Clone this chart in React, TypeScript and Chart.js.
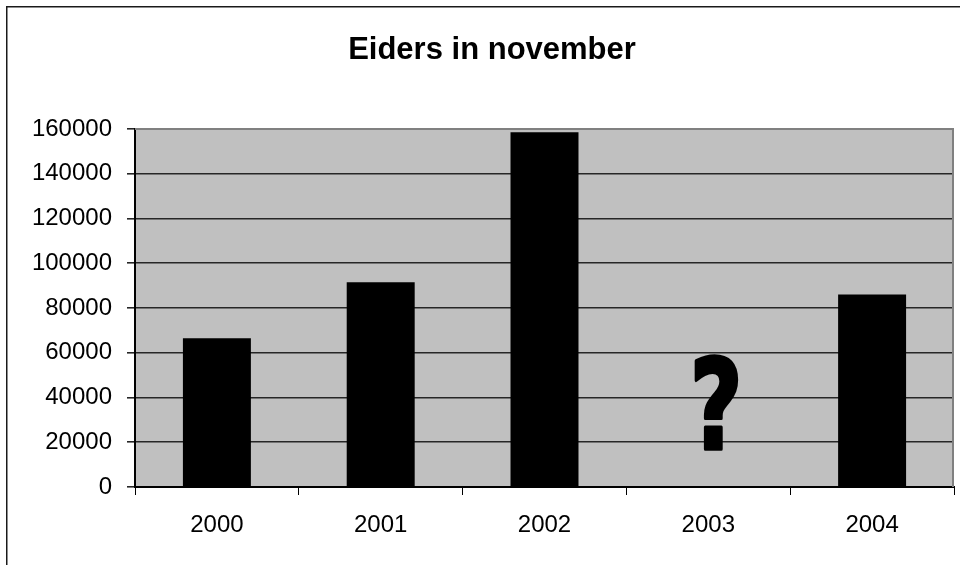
import React, { useEffect, useRef } from "react";
import { Chart, registerables } from "chart.js";

Chart.register(...registerables);

const title = "Eiders in november";
const categories = ["2000", "2001", "2002", "2003", "2004"];
const eiders: (number | null)[] = [66500, 91500, 158500, null, 86000];
const yMin = 0;
const yMax = 160000;
const yStep = 20000;
const unknownCategory = "2003";
const unknownMarkValue = 37500;

const FONT = "'Liberation Sans', Arial, sans-serif";

const decorPlugin = {
  id: "decor",
  beforeDraw(chart: any) {
    const { ctx, chartArea } = chart;
    ctx.save();
    ctx.fillStyle = "#ffffff";
    ctx.fillRect(0, 0, chart.width, chart.height);
    ctx.fillStyle = "#C0C0C0";
    ctx.fillRect(chartArea.left, chartArea.top, chartArea.right - chartArea.left, chartArea.bottom - chartArea.top);
    // outer frame
    ctx.strokeStyle = "#1a1a1a";
    ctx.lineWidth = 1.5;
    ctx.beginPath();
    ctx.moveTo(6.75, chart.height + 5);
    ctx.lineTo(6.75, 6.75);
    ctx.lineTo(chart.width + 5, 6.75);
    ctx.stroke();
    // title
    ctx.fillStyle = "#000";
    ctx.font = `bold 31px ${FONT}`;
    ctx.textAlign = "center";
    ctx.textBaseline = "alphabetic";
    ctx.fillText(title, 492, 59);
    ctx.restore();
  },
  beforeDatasetsDraw(chart: any) {
    const { ctx, chartArea } = chart;
    ctx.save();
    ctx.strokeStyle = "#808080";
    ctx.lineWidth = 2;
    ctx.beginPath();
    ctx.moveTo(chartArea.left, chartArea.top);
    ctx.lineTo(chartArea.right - 1, chartArea.top);
    ctx.lineTo(chartArea.right - 1, chartArea.bottom);
    ctx.stroke();
    ctx.restore();
  },
  afterDatasetsDraw(chart: any) {
    const { ctx } = chart;
    const xs = chart.scales.x;
    const ys = chart.scales.y;
    const idx = categories.indexOf(unknownCategory);
    if (idx < 0) return;
    const cx = xs.getPixelForValue(idx) + 8;
    const cy = ys.getPixelForValue(unknownMarkValue);
    ctx.save();
    ctx.font = `bold 100px 'DejaVu Sans', ${FONT}`;
    const m = ctx.measureText("?");
    const gw = m.actualBoundingBoxLeft + m.actualBoundingBoxRight;
    const gh = m.actualBoundingBoxAscent + m.actualBoundingBoxDescent;
    const targetW = 42;
    const targetH = 92;
    const sx = targetW / gw;
    const sy = targetH / gh;
    ctx.translate(cx, cy);
    ctx.scale(sx, sy);
    ctx.fillStyle = "#000";
    ctx.strokeStyle = "#000";
    ctx.lineWidth = 3;
    ctx.lineJoin = "round";
    ctx.textAlign = "left";
    ctx.textBaseline = "alphabetic";
    const ox = -gw / 2 + m.actualBoundingBoxLeft;
    const oy = -gh / 2 + m.actualBoundingBoxAscent;
    ctx.fillText("?", ox, oy);
    ctx.strokeText("?", ox, oy);
    ctx.restore();
  },
};

export default function App() {
  const ref = useRef<HTMLCanvasElement | null>(null);
  useEffect(() => {
    if (!ref.current) return;
    const chart = new Chart(ref.current, {
      type: "bar",
      data: {
        labels: categories,
        datasets: [
          {
            label: "Eiders",
            data: eiders,
            backgroundColor: "#000000",
            borderWidth: 0,
            barPercentage: 0.415,
            categoryPercentage: 1,
          },
        ],
      },
      options: {
        animation: false,
        responsive: false,
        maintainAspectRatio: false,
        layout: { padding: { top: 129, left: 0, right: 6, bottom: 0 } },
        plugins: {
          legend: { display: false },
          title: { display: false },
          tooltip: { enabled: false },
        },
        scales: {
          x: {
            offset: true,
            grid: {
              offset: true,
              drawOnChartArea: false,
              drawTicks: true,
              tickLength: 8,
              color: "#000",
              lineWidth: 1,
            },
            border: { display: true, color: "#000", width: 2 },
            ticks: {
              color: "#000",
              font: { family: FONT, size: 24 },
              padding: 16,
              maxRotation: 0,
            },
            afterFit: (s: any) => {
              s.height = 78;
            },
          },
          y: {
            min: yMin,
            max: yMax,
            grid: {
              drawOnChartArea: true,
              drawTicks: true,
              tickLength: 8,
              color: "#262626",
              lineWidth: 1.6,
            },
            border: { display: true, color: "#000", width: 2 },
            ticks: {
              stepSize: yStep,
              color: "#000",
              font: { family: FONT, size: 24 },
              padding: 15,
              callback: (v: any) => String(v),
            },
            afterFit: (s: any) => {
              s.width = 135;
            },
          },
        },
      },
      plugins: [decorPlugin],
    });
    return () => chart.destroy();
  }, []);
  return (
    <div style={{ position: "fixed", left: 0, top: 0, width: 960, height: 565, background: "#fff" }}>
      <canvas ref={ref} width={960} height={565} style={{ display: "block", width: 960, height: 565 }} />
    </div>
  );
}
